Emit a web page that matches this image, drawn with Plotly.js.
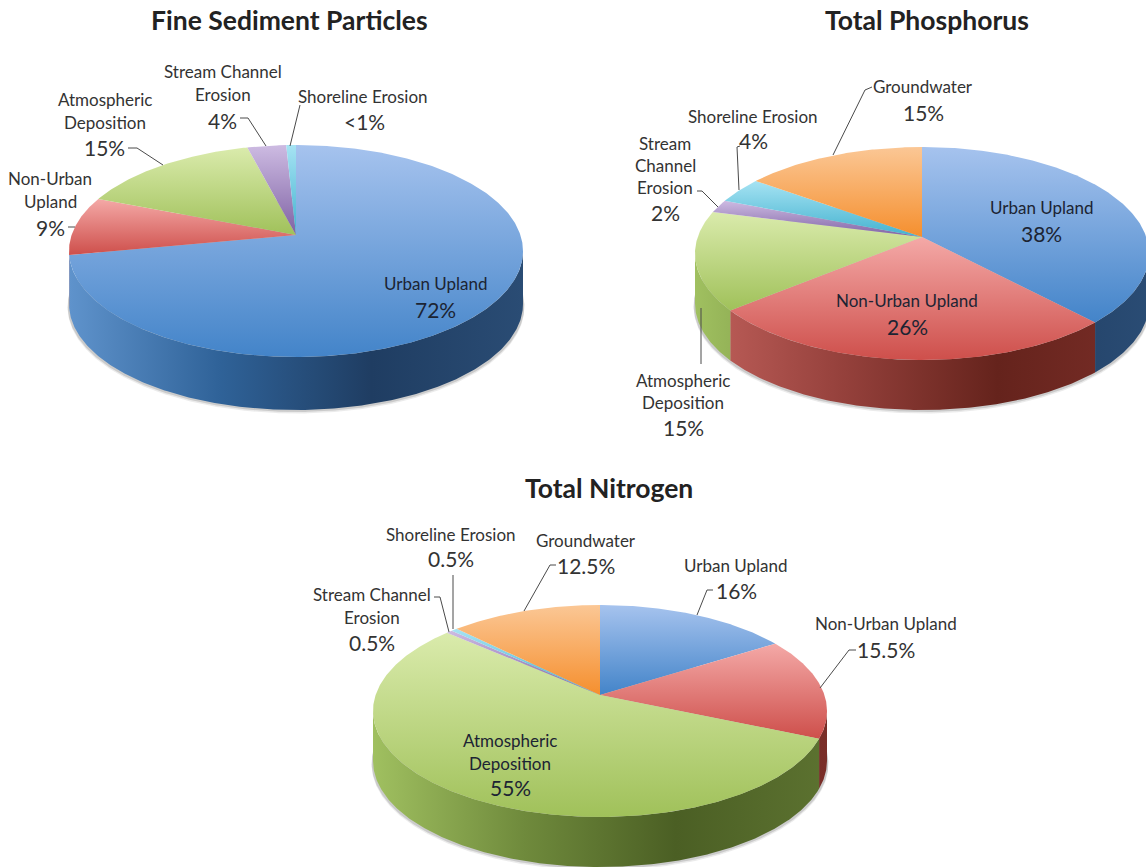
<!DOCTYPE html>
<html>
<head>
<meta charset="utf-8">
<script src="https://cdn.plot.ly/plotly-3.0.1.min.js"></script>
<style>html,body{margin:0;padding:0;background:#fff}</style>
</head>
<body>
<div id="chart" style="width:1146px;height:867px"></div>
<script>
// ---------- data ----------
const sedimentCategories = ["Urban Upland","Non-Urban Upland","Atmospheric Deposition","Stream Channel Erosion","Shoreline Erosion"];
const sedimentValues = [72, 9, 15, 3.2, 0.8];
const phosphorusCategories = ["Urban Upland","Non-Urban Upland","Atmospheric Deposition","Stream Channel Erosion","Shoreline Erosion","Groundwater"];
const phosphorusValues = [38, 26, 15, 2, 4, 15];
const nitrogenCategories = ["Urban Upland","Non-Urban Upland","Atmospheric Deposition","Stream Channel Erosion","Shoreline Erosion","Groundwater"];
const nitrogenValues = [16, 15.5, 55, 0.5, 0.5, 12.5];

// ---------- styles ----------
const topColors = {
  "Urban Upland":["#A6C3EE","#4384C9"],
  "Non-Urban Upland":["#F4A9A7","#CE4F4B"],
  "Atmospheric Deposition":["#DAEBAC","#A0C15A"],
  "Stream Channel Erosion":["#CDBBE2","#7F62A4"],
  "Shoreline Erosion":["#A6E3F3","#43B2CF"],
  "Groundwater":["#FBC795","#F58F2E"]
};
const wallColors = {
  "Urban Upland":["#5F93CC","#2F6298","#1F3D62","#2A4C74"],
  "Non-Urban Upland":["#C0605B","#94403B","#65231C","#7A2E28"],
  "Atmospheric Deposition":["#A0C060","#6F8A3C","#4B5F24","#5C7230"],
  "Stream Channel Erosion":["#8064A2","#604A7B","#403152","#504062"],
  "Shoreline Erosion":["#4BACC6","#31859C","#205867","#2A6878"],
  "Groundwater":["#F79646","#C66F2A","#974806","#A85A1A"]
};

// placement of each pie on the page, in px of the hidden axes
const pieLayouts = [
  {cats:sedimentCategories, vals:sedimentValues, apexX:296, apexY:235, top:145, bottom:357, rx:227, depth:53, id:"Fine Sediment Particles"},
  {cats:phosphorusCategories, vals:phosphorusValues, apexX:922, apexY:237, top:147, bottom:360, rx:227, depth:50, id:"Total Phosphorus"},
  {cats:nitrogenCategories, vals:nitrogenValues, apexX:600, apexY:695, top:605, bottom:817, rx:227, depth:50, id:"Total Nitrogen"}
];

const titles = [
  ["Fine Sediment Particles",289,20],
  ["Total Phosphorus",927,20],
  ["Total Nitrogen",609,488]
];
// text, x, y, kind: n = name, p = percent (capital = on a slice)
const labels = [
  ["Stream Channel",223,71,"n"],["Erosion",223,94,"n"],["4%",222,120,"p"],
  ["Shoreline Erosion",363,96,"n"],["<1%",364,121,"p"],
  ["Atmospheric",105,99,"n"],["Deposition",105,122,"n"],["15%",104,147,"p"],
  ["Non-Urban",50,178,"n"],["Upland",50,201,"n"],["9%",50,227,"p"],
  ["Urban Upland",436,283,"N"],["72%",435,309,"P"],
  ["Groundwater",923,86,"n"],["15%",923,112,"p"],
  ["Shoreline Erosion",753,116,"n"],["4%",753,140,"p"],
  ["Stream",665,143,"n"],["Channel",665,165,"n"],["Erosion",665,187,"n"],["2%",665,212,"p"],
  ["Urban Upland",1042,207,"N"],["38%",1041,233,"P"],
  ["Non-Urban Upland",907,300,"N"],["26%",907,326,"P"],
  ["Atmospheric",683,380,"n"],["Deposition",683,402,"n"],["15%",683,427,"p"],
  ["Shoreline Erosion",451,534,"n"],["0.5%",451,558,"p"],
  ["Groundwater",586,540,"n"],["12.5%",586,565,"p"],
  ["Stream Channel",372,594,"n"],["Erosion",372,617,"n"],["0.5%",372,642,"p"],
  ["Urban Upland",736,565,"n"],["16%",736,590,"p"],
  ["Non-Urban Upland",886,623,"n"],["15.5%",886,649,"p"],
  ["Atmospheric",510,740,"N"],["Deposition",510,763,"N"],["55%",510,787,"P"]
];
const leaders = [
  [[266,146],[248,118],[240,118]],
  [[290,146],[300,105]],
  [[163,165],[137,148],[128,148]],
  [[75,227],[68,227]],
  [[701,308],[701,364]],
  [[833,155],[865,90],[872,87]],
  [[739,190],[737,147],[740,146]],
  [[718,207],[702,191],[697,191]],
  [[449,632],[440,597],[434,597]],
  [[453,629],[453,575]],
  [[524,611],[550,565],[556,565]],
  [[697,615],[707,590],[713,590]],
  [[820,688],[849,650],[856,650]]
];

// ---------- perspective pie geometry: a circle seen at an angle ----------
function projector(p){
  const up = p.apexY - p.top, down = p.bottom - p.apexY;
  const c = (up - down) / (up + down);
  const a = up * (1 - c);
  const R = p.rx * Math.sqrt(1 - c * c);
  const proj = t => {
    const u = Math.sin(t), v = -Math.cos(t), d = 1 + c * v;
    return [p.apexX + R * u / d, p.apexY + a * v / d];
  };
  // angles of the rightmost and leftmost rim points: the wall shows only between them
  proj.tRight = Math.acos(c);
  proj.tLeft = 2 * Math.PI - Math.acos(c);
  return proj;
}
function arc(proj, t0, t1){
  const n = Math.max(2, Math.ceil((t1 - t0) / 0.01)), pts = [];
  for (let i = 0; i <= n; i++) pts.push(proj(t0 + (t1 - t0) * i / n));
  return pts;
}
function scaleOf(cols){
  return cols.map((c,i) => [i / (cols.length - 1), c]);
}
const traces = [];
function addPoly(name, pts, extra){
  traces.push(Object.assign({
    type:"scatter", mode:"lines", name, fill:"toself", hoverinfo:"skip", showlegend:false,
    x:pts.map(q => q[0]), y:pts.map(q => q[1]), line:{width:0}
  }, extra));
}
pieLayouts.forEach(p => {
  const proj = projector(p);
  const total = p.vals.reduce((s,v) => s + v, 0);
  // soft shadow under the pie
  [[3.5,"rgba(90,90,90,0.12)"],[2,"rgba(90,90,90,0.22)"]].forEach(s => {
    const ring = arc(proj, 0, 2 * Math.PI).map(q => [q[0] + (q[0] - p.apexX) * 0.006, q[1] + p.depth + s[0]]);
    addPoly(p.id + " shadow", ring, {fillcolor:s[1]});
  });
  let acc = 0;
  const slices = p.vals.map((v,i) => {
    const t0 = acc / total * 2 * Math.PI; acc += v;
    return {cat:p.cats[i], t0, t1:acc / total * 2 * Math.PI};
  });
  // side walls first, tops over them
  slices.forEach(s => {
    const a = Math.max(s.t0, proj.tRight), b = Math.min(s.t1, proj.tLeft);
    if (b <= a) return;
    const edge = arc(proj, a, b);
    const low = edge.slice().reverse().map(q => [q[0], q[1] + p.depth]);
    addPoly(s.cat + " side", edge.concat(low, [edge[0]]), {
      fillgradient:{type:"horizontal", start:p.apexX - p.rx, stop:p.apexX + p.rx, colorscale:scaleOf(wallColors[s.cat])}
    });
  });
  slices.forEach(s => {
    const edge = arc(proj, s.t0, s.t1);
    const pts = [[p.apexX, p.apexY]].concat(edge, [[p.apexX, p.apexY]]);
    const ys = pts.map(q => q[1]);
    addPoly(s.cat, pts, {
      fillgradient:{type:"vertical", start:Math.min(...ys), stop:Math.max(...ys), colorscale:scaleOf(topColors[s.cat])}
    });
  });
});

const FONT = "Lato, 'Open Sans', sans-serif";
const annotations = titles.map(t => ({
  text:"<b>" + t[0] + "</b>", x:t[1], y:t[2], xref:"x", yref:"y", showarrow:false,
  xanchor:"center", yanchor:"middle", font:{family:FONT, size:26.5, color:"#222"}
})).concat(labels.map(l => {
  const isPct = l[3].toLowerCase() === "p", inside = l[3] === l[3].toUpperCase();
  return {
    text:l[0].replace("<","&lt;"), x:l[1], y:l[2], xref:"x", yref:"y", showarrow:false,
    xanchor:"center", yanchor:"middle",
    font:{family:FONT, size:isPct ? 21 : 17, color:inside ? "#1c2433" : "#333"}
  };
}));
const shapes = leaders.map(pts => ({
  type:"path", xref:"x", yref:"y",
  path:"M" + pts.map(q => q[0] + "," + q[1]).join(" L"),
  line:{color:"#4a4a4a", width:1}
}));

Plotly.newPlot("chart", traces, {
  width:1146, height:867, margin:{l:0,r:0,t:0,b:0},
  paper_bgcolor:"#fff", plot_bgcolor:"#fff", showlegend:false,
  xaxis:{range:[0,1146], visible:false, fixedrange:true},
  yaxis:{range:[867,0], visible:false, fixedrange:true},
  annotations, shapes
}, {displayModeBar:false, staticPlot:true});
</script>
</body>
</html>
